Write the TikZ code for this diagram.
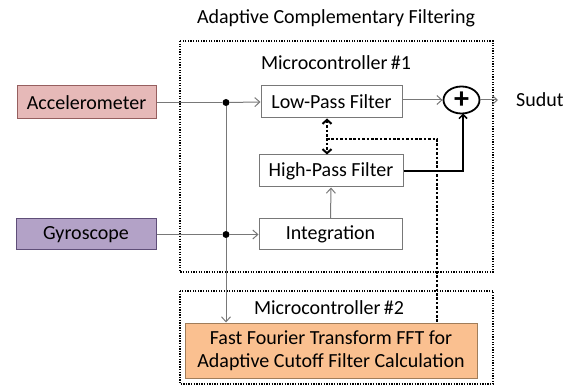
\documentclass[tikz,border=0pt]{standalone}
\usepackage{fontspec}
\setmainfont{Carlito}
\usetikzlibrary{arrows.meta,shapes.geometric}
\definecolor{accfill}{HTML}{E6B9B8}
\definecolor{accdraw}{RGB}{150,95,95}
\definecolor{gyrfill}{HTML}{B3A2C7}
\definecolor{gyrdraw}{RGB}{95,78,120}
\definecolor{fftfill}{HTML}{FAC090}
\definecolor{fftdraw}{RGB}{160,125,90}
\definecolor{lgray}{RGB}{120,120,120}
\begin{document}
\begin{tikzpicture}[x=1pt,y=-1pt,
  font=\fontsize{20}{24}\selectfont,
  blk/.style={draw=lgray, line width=1pt, inner sep=0pt, align=center},
  conn/.style={draw=lgray, line width=1pt, -{Straight Barb[length=5pt,width=9pt,line width=1pt]}},
  plainconn/.style={draw=lgray, line width=1pt},
  mcbox/.style={draw=black, line width=1.3pt, dash pattern=on 1.3pt off 1.3pt},
  fatdot/.style={draw=black, line width=2.6pt, dash pattern=on 2.6pt off 1.8pt},
  jdot/.style={circle, fill=black, inner sep=0pt, minimum size=7pt},
  lbl/.style={inner sep=0pt}
]
\useasboundingbox (0,0) rectangle (571,385);
% dotted microcontroller frames
\draw[mcbox] (180,41) rectangle (493,272);
\draw[mcbox] (180,291) rectangle (493,384);
% labels
\node[lbl] (title) at (336,18) {Adaptive Complementary Filtering};
\node[lbl] (mc1) at (336,63) {Microcontroller\,\#1};
\node[lbl] (mc2) at (329,308) {Microcontroller\,\#2};
% blocks
\node[blk, fill=accfill, draw=accdraw, minimum width=139pt, minimum height=33pt] (acc) at (86.5,102.5) {Accelerometer};
\node[blk, fill=gyrfill, draw=gyrdraw, minimum width=140pt, minimum height=31pt] (gyr) at (86,234.5) {Gyroscope};
\node[blk, minimum width=141pt, minimum height=32pt] (lpf) at (331.5,102) {Low-Pass Filter};
\node[blk, minimum width=144pt, minimum height=32pt] (hpf) at (331,171) {High-Pass Filter};
\node[blk, minimum width=143pt, minimum height=31pt] (int) at (330.5,234.5) {Integration};
\node[blk, fill=fftfill, draw=fftdraw, minimum width=292pt, minimum height=55pt, font=\fontsize{20}{23}\selectfont] (fft) at (331,350.5) {Fast Fourier Transform FFT for\\Adaptive Cutoff Filter Calculation};
\node[ellipse, draw=black, line width=1.8pt, minimum width=36pt, minimum height=27pt, inner sep=0pt] (sum) at (461.5,100) {};
\node[lbl, font=\fontsize{30}{30}\selectfont\bfseries] (plus) at (461.5,100.5) {+};
\node[lbl, anchor=west] (sud) at (516,100) {Sudut};
% junctions
\node[jdot] (j1) at (226,102.5) {};
\node[jdot] (j2) at (226,234.5) {};
% connectors
\draw[plainconn] (acc.east) -- (j1);
\draw[conn] (j1) -- (lpf.west);
\draw[plainconn] (gyr.east) -- (j2);
\draw[conn] (j2) -- (int.west);
\draw[plainconn] (j1) -- (j2);
\draw[conn] (j2) -- (j2 |- fft.north);
\draw[conn] (int.north) -- (hpf.south);
\draw[conn] (lpf.east |- sum.west) -- (sum.west);
\draw[conn, shorten >=18pt] (sum.east) -- (sud.west);
\draw[black, line width=1.6pt, -{Straight Barb[length=4pt,width=8pt,line width=1.5pt]}] (hpf.east) -- (hpf.east -| 463,0) -- (463,113.5);
% dotted adaptive cutoff link
\coordinate (dl) at ([xshift=-4.5pt]lpf.south);
\coordinate (dh) at ([xshift=-4pt]hpf.north);
\coordinate (dm) at (327,139);
\coordinate (dc) at (437,139);
\draw[fatdot, {Straight Barb[length=4pt,width=9pt,line width=2pt]}-{Straight Barb[length=4pt,width=9pt,line width=2pt]}] (dl) -- (dh);
\draw[fatdot] (dm) -- (dc) -- (dc |- fft.north);
\end{tikzpicture}
\end{document}
